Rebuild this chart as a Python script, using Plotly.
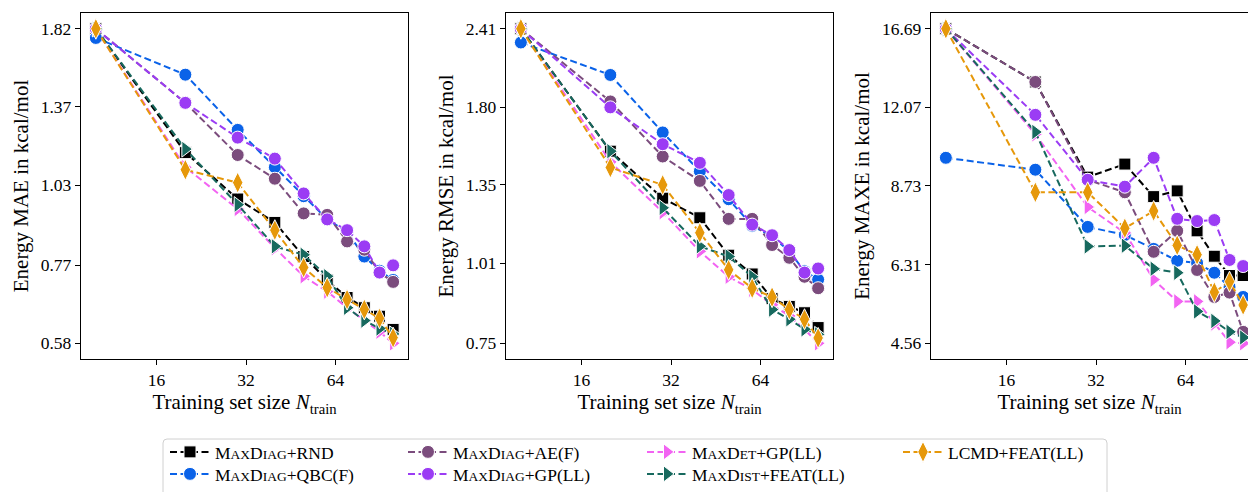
import math
import plotly.graph_objects as go
from plotly.subplots import make_subplots

# ---------------- data ----------------
N_TRAIN = [10, 20, 30, 40, 50, 60, 70, 80, 90, 100]
X_TICKS = [16, 32, 64]

METHODS = ["RND", "QBC", "AE", "GP", "MAXDET", "MAXDIST", "LCMD"]

MAE_RND = [1.82, 1.16, 0.98, 0.90, 0.795, 0.73, 0.685, 0.66, 0.64, 0.61]
MAE_QBC = [1.76, 1.54, 1.26, 1.10, 0.99, 0.91, 0.87, 0.795, 0.755, 0.73]
MAE_AE = [1.82, 1.39, 1.15, 1.055, 0.93, 0.925, 0.84, 0.815, 0.75, 0.725]
MAE_GP = [1.82, 1.39, 1.225, 1.135, 1.00, 0.91, 0.875, 0.825, 0.75, 0.77]
MAE_MAXDET = [1.82, 1.10, 0.945, 0.82, 0.74, 0.70, 0.66, 0.63, 0.605, 0.58]
MAE_MAXDIST = [1.82, 1.175, 0.96, 0.825, 0.80, 0.74, 0.66, 0.63, 0.612, 0.60]
MAE_LCMD = [1.82, 1.09, 1.04, 0.875, 0.764, 0.71, 0.68, 0.656, 0.635, 0.592]

RMSE_RND = [2.41, 1.53, 1.285, 1.195, 1.04, 0.97, 0.885, 0.86, 0.84, 0.795]
RMSE_QBC = [2.29, 2.03, 1.64, 1.42, 1.28, 1.16, 1.115, 1.055, 0.98, 0.95]
RMSE_AE = [2.41, 1.84, 1.50, 1.37, 1.19, 1.19, 1.08, 1.03, 0.96, 0.92]
RMSE_GP = [2.41, 1.80, 1.57, 1.465, 1.30, 1.165, 1.12, 1.06, 0.975, 0.99]
RMSE_MAXDET = [2.41, 1.47, 1.22, 1.055, 0.96, 0.915, 0.865, 0.83, 0.79, 0.75]
RMSE_MAXDIST = [2.41, 1.53, 1.24, 1.075, 1.035, 0.96, 0.85, 0.82, 0.79, 0.775]
RMSE_LCMD = [2.41, 1.44, 1.35, 1.13, 0.985, 0.92, 0.89, 0.85, 0.82, 0.765]

MAXE_RND = [16.69, 13.4, 9.05, 9.55, 8.35, 8.55, 7.25, 6.53, 6.03, 6.03]
MAXE_QBC = [9.8, 9.33, 7.37, 7.13, 6.73, 6.41, 6.35, 6.1, 5.75, 5.52]
MAXE_AE = [16.69, 13.4, 8.95, 8.5, 6.65, 7.25, 6.17, 5.52, 5.62, 4.78]
MAXE_GP = [16.69, 11.7, 8.95, 8.7, 9.8, 7.62, 7.55, 7.58, 6.43, 6.27]
MAXE_MAXDET = [16.69, 10.8, 8.0, 7.19, 5.93, 5.42, 5.42, 4.95, 4.58, 4.56]
MAXE_MAXDIST = [16.69, 10.9, 6.8, 6.82, 6.2, 6.1, 5.2, 5.0, 4.78, 4.67]
MAXE_LCMD = [16.69, 8.5, 8.5, 7.33, 7.87, 6.83, 6.57, 5.63, 5.88, 5.34]

MAE_TICKS = [0.58, 0.77, 1.03, 1.37, 1.82]
RMSE_TICKS = [0.75, 1.01, 1.35, 1.80, 2.41]
MAXE_TICKS = [4.56, 6.31, 8.73, 12.07, 16.69]

Y_TITLES = ["Energy MAE in kcal/mol", "Energy RMSE in kcal/mol", "Energy MAXE in kcal/mol"]
X_TITLE = "Training set size <i>N</i><sub>train</sub>"

PANELS = [
    [MAE_RND, MAE_QBC, MAE_AE, MAE_GP, MAE_MAXDET, MAE_MAXDIST, MAE_LCMD],
    [RMSE_RND, RMSE_QBC, RMSE_AE, RMSE_GP, RMSE_MAXDET, RMSE_MAXDIST, RMSE_LCMD],
    [MAXE_RND, MAXE_QBC, MAXE_AE, MAXE_GP, MAXE_MAXDET, MAXE_MAXDIST, MAXE_LCMD],
]
PANEL_TICKS = [MAE_TICKS, RMSE_TICKS, MAXE_TICKS]

# ---------------- styles ----------------
FONT = "Liberation Serif"
LEG_SIZE = 17.5
SC_SIZE = 13.5


def sc(*parts):
    """Emulate small caps: capital of each part full size, the rest smaller uppercase."""
    out = ""
    for w in parts:
        out += w[0] + '<span style="font-size:%.1fpx">%s</span>' % (SC_SIZE, w[1:].upper())
    return out


LABELS = {
    "RND": sc("Max", "Diag") + "+RND",
    "QBC": sc("Max", "Diag") + "+QBC(F)",
    "AE": sc("Max", "Diag") + "+AE(F)",
    "GP": sc("Max", "Diag") + "+GP(LL)",
    "MAXDET": sc("Max", "Det") + "+GP(LL)",
    "MAXDIST": sc("Max", "Dist") + "+FEAT(LL)",
    "LCMD": "LCMD+FEAT(LL)",
}
COLORS = {
    "RND": "#000000",
    "QBC": "#0a62e8",
    "AE": "#7b4c7d",
    "GP": "#9b3cf4",
    "MAXDET": "#f263f2",
    "MAXDIST": "#17695e",
    "LCMD": "#e6980a",
}
SYMBOLS = {
    "RND": ("square", 12),
    "QBC": ("circle", 13),
    "AE": ("circle", 13),
    "GP": ("circle", 13),
    "MAXDET": ("triangle-right", 14),
    "MAXDIST": ("triangle-right", 14),
    "LCMD": ("diamond-tall", 15),
}
# legend grid (matplotlib ncol=4, column-major): (column, row)
LEG_POS = {"RND": (0, 0), "QBC": (0, 1), "AE": (1, 0), "GP": (1, 1),
           "MAXDET": (2, 0), "MAXDIST": (2, 1), "LCMD": (3, 0)}
LEG_NAME = {m: ("legend" if i == 0 else "legend%d" % (i + 1)) for i, m in enumerate(METHODS)}

# ---------------- geometry (pixels) ----------------
W, H = 1248, 492
ML, MR, MT, MB = 81, 0, 13, 133
PW, PH = W - ML - MR, H - MT - MB


def fx(px):
    return (px - ML) / PW


def fy(py):
    return (H - MB - py) / PH


fig = make_subplots(rows=1, cols=3)

for p, series in enumerate(PANELS):
    for m, ys in zip(METHODS, series):
        sym, size = SYMBOLS[m]
        fig.add_trace(
            go.Scatter(
                x=N_TRAIN, y=ys, mode="lines+markers", name=LABELS[m],
                line=dict(color=COLORS[m], width=2, dash="7px,3.5px"),
                marker=dict(symbol=sym, size=size, color=COLORS[m],
                            line=dict(color="white", width=1)),
                legendgroup=m, legend=LEG_NAME[m],
                showlegend=(p == 0),
            ),
            row=1, col=p + 1,
        )

x_domains = [(fx(81), fx(408)), (fx(506), fx(833)), (fx(931), 1.0)]
xr_full = [0.95, 2.05]
xr_last = [0.95, 0.95 + 1.1 * (W - 931) / 327.0]

layout_axes = {}
for i in range(3):
    sfx = "" if i == 0 else str(i + 1)
    ticks = PANEL_TICKS[i]
    lo, hi = math.log10(min(ticks)), math.log10(max(ticks))
    span = hi - lo
    layout_axes["xaxis" + sfx] = dict(
        type="log", domain=x_domains[i],
        range=xr_last if i == 2 else xr_full,
        tickvals=X_TICKS, ticktext=[str(t) for t in X_TICKS],
        ticks="outside", ticklen=5, tickwidth=1.2, tickcolor="black",
        showline=True, linecolor="black", linewidth=1.3, mirror=True,
        showgrid=False, zeroline=False,
        tickfont=dict(family=FONT, size=17.5, color="black"),
        title=dict(text=X_TITLE, font=dict(family=FONT, size=21, color="black"), standoff=4),
        automargin=False,
    )
    layout_axes["yaxis" + sfx] = dict(
        type="log", domain=[0, 1],
        range=[lo - 0.05 * span, hi + 0.05 * span],
        tickvals=ticks, ticktext=["%.2f" % t for t in ticks],
        ticks="outside", ticklen=5, tickwidth=1.2, tickcolor="black",
        showline=True, linecolor="black", linewidth=1.3, mirror=(i != 2),
        showgrid=False, zeroline=False,
        tickfont=dict(family=FONT, size=17.5, color="black"),
        title=dict(text=Y_TITLES[i], font=dict(family=FONT, size=21, color="black"), standoff=6),
        automargin=False,
    )

COL_X = [165, 403, 642, 898]
legends = {}
for m in METHODS:
    c, r = LEG_POS[m]
    leg = dict(
        orientation="v", xanchor="left", x=fx(COL_X[c]),
        bgcolor="rgba(0,0,0,0)", borderwidth=0,
        font=dict(family=FONT, size=LEG_SIZE, color="black"),
        itemwidth=40,
    )
    if r == 0:
        leg.update(yanchor="middle", y=fy(452))
    else:
        leg.update(yanchor="bottom", y=fy(H))
    legends[LEG_NAME[m]] = leg

# legend frame with rounded corners (paper coordinates)
bx0, bx1, by0, by1 = fx(163), fx(1107), fy(H + 10), fy(439)
rx, ry = 4 / PW, 4 / PH
frame_path = (
    f"M{bx0},{by0} L{bx0},{by1 - ry} Q{bx0},{by1} {bx0 + rx},{by1} "
    f"L{bx1 - rx},{by1} Q{bx1},{by1} {bx1},{by1 - ry} L{bx1},{by0} Z"
)

fig.update_layout(
    width=W, height=H,
    margin=dict(l=ML, r=MR, t=MT, b=MB, pad=0),
    paper_bgcolor="white", plot_bgcolor="white",
    font=dict(family=FONT, color="black"),
    showlegend=True,
    shapes=[dict(
        type="path", xref="paper", yref="paper", path=frame_path,
        line=dict(color="#d0d0d0", width=1), fillcolor="white", layer="below",
    )],
    **legends,
    **layout_axes,
)

fig.write_html(
    "out.html",
    config={"displayModeBar": False},
    post_script="document.body.style.margin='0';document.body.style.overflow='hidden';",
)
